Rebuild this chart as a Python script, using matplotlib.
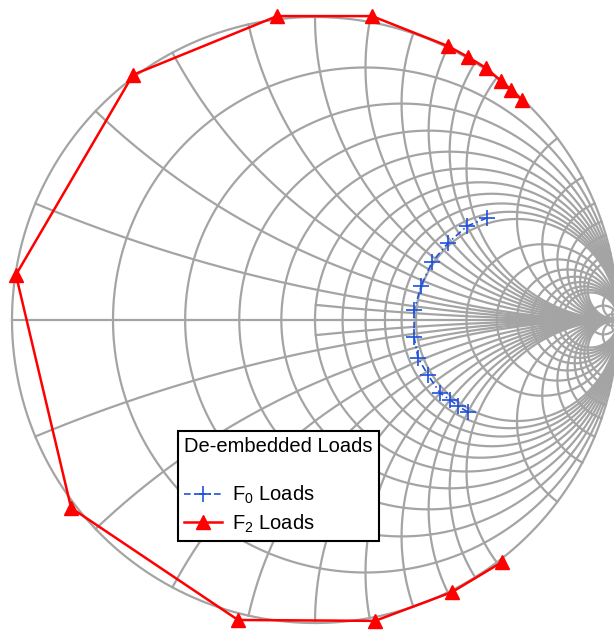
import numpy as np
import matplotlib.pyplot as plt

plt.rcParams['font.family'] = ['Liberation Sans', 'DejaVu Sans']
plt.rcParams['mathtext.fontset'] = 'custom'
plt.rcParams['mathtext.rm'] = 'Liberation Sans'
plt.rcParams['mathtext.it'] = 'Liberation Sans:italic'

# de-embedded load reflection coefficients (real / imag)
f0_re = [0.568, 0.502, 0.439, 0.386, 0.350, 0.327, 0.327, 0.340, 0.373, 0.413, 0.446, 0.472, 0.505]
f0_im = [0.337, 0.310, 0.254, 0.191, 0.112, 0.033, -0.056, -0.125, -0.182, -0.241, -0.264, -0.284, -0.304]

f2_re = [0.683, 0.647, 0.614, 0.564, 0.505, 0.439, 0.188, -0.125, -0.601, -0.987,
         -0.805, -0.254, 0.198, 0.452, 0.617]
f2_im = [0.726, 0.759, 0.789, 0.832, 0.868, 0.904, 1.003, 1.003, 0.809, 0.149,
         -0.620, -0.990, -0.993, -0.898, -0.799]

# normalised resistance circles and reactance arcs of the chart grid
r_vals = [0.2, 0.4, 0.6, 0.8, 1.0, 1.2, 1.4, 1.6, 1.8, 2.0, 3, 4, 5, 6, 7, 8, 9, 10, 20, 50]
x_vals = [0.2, 0.4, 0.6, 0.8, 1.0, 1.2, 1.4, 1.6, 1.8, 2.0, 3, 4, 5, 6, 7, 8, 9, 10, 20, 50]
# extra reactance arcs that only start at a given resistance
x_fine = [0.1, 0.3]
x_fine_from = [1.0, 2.0]

GRID = '#a4a4a4'
GRID_LW = 1.6


def gamma(z):
    return (z - 1) / (z + 1)


def x_arc(x, r_start=0.0):
    u = np.linspace(np.arctan(r_start), np.pi / 2 - 1e-4, 800)
    for s in (1, -1):
        g = gamma(np.tan(u) + 1j * s * x)
        ax.plot(g.real, g.imag, color=GRID, lw=GRID_LW, zorder=1)


fig = plt.figure(figsize=(6.14, 6.31), dpi=100)
ax = fig.add_axes([0, 0, 1, 1])
ax.set_axis_off()
ax.set_xlim(-1.0396, 0.9868)
ax.set_ylim(-1.0264, 1.0561)

# outer circle and real axis
th = np.linspace(0, 2 * np.pi, 721)
ax.plot(np.cos(th), np.sin(th), color=GRID, lw=GRID_LW, zorder=1)
ax.plot([-1, 1], [0, 0], color=GRID, lw=GRID_LW, zorder=1)

for r in r_vals:
    c, rad = r / (1 + r), 1 / (1 + r)
    ax.plot(c + rad * np.cos(th), rad * np.sin(th), color=GRID, lw=GRID_LW, zorder=1)

for x in x_vals:
    x_arc(x)
for x, r0 in zip(x_fine, x_fine_from):
    x_arc(x, r0)

f0_line, = ax.plot(f0_re, f0_im, color='#1f50dc', ls=(0, (4, 2, 1, 2)), lw=1.2,
                   marker='+', ms=11, mew=1.2, zorder=3)
f2_line, = ax.plot(f2_re, f2_im, color='red', lw=1.8, marker='^', ms=10, zorder=3)

leg = ax.legend([f0_line, f2_line], ['F$_0$ Loads', 'F$_2$ Loads'],
                title='De-embedded Loads\n', title_fontsize=14.5, fontsize=14.5,
                loc='upper left', bbox_to_anchor=(0.290, 0.317), borderaxespad=0,
                frameon=True, fancybox=False, edgecolor='black', framealpha=1,
                handlelength=1.9, handletextpad=0.5, borderpad=0.3, labelspacing=0.3,
                alignment='left')
leg.get_frame().set_linewidth(1.5)
leg.set_zorder(5)

fig.savefig('out.png', dpi=100)
